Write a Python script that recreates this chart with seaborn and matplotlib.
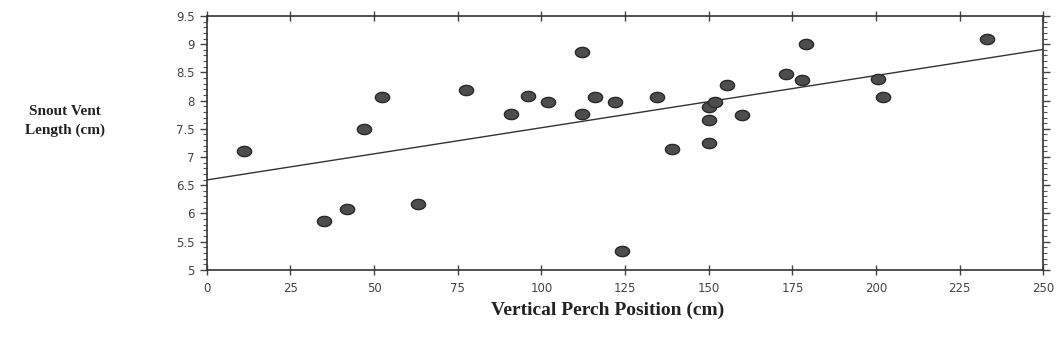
import matplotlib
matplotlib.use("Agg")
import matplotlib.pyplot as plt
from matplotlib.path import Path
from matplotlib.ticker import MultipleLocator
import numpy as np
import pandas as pd
import seaborn as sns

# perch height (cm) and snout-vent length (cm)
perch_cm = [11, 35, 42, 47, 52.5, 63, 77.5, 91, 96, 102, 112, 112, 116,
            122, 124, 134.5, 139, 150, 150, 150, 152, 155.5, 160, 173,
            178, 179, 200.5, 202, 233]
svl_cm = [7.10, 5.87, 6.07, 7.49, 8.07, 6.16, 8.19, 7.76, 8.08, 7.97,
          8.87, 7.76, 8.06, 7.97, 5.33, 8.06, 7.15, 7.25, 7.65, 7.89,
          7.98, 8.28, 7.75, 8.48, 8.37, 9.00, 8.38, 8.07, 9.09]

x_ticks = [0, 25, 50, 75, 100, 125, 150, 175, 200, 225, 250]
y_ticks = [5, 5.5, 6, 6.5, 7, 7.5, 8, 8.5, 9, 9.5]

df = pd.DataFrame({"perch": perch_cm, "svl": svl_cm})

sns.set_theme(style="ticks")
plt.rcParams["font.family"] = ["DejaVu Sans"]

# slightly flattened dot, like the scanned markers
t = np.linspace(0, 2 * np.pi, 40)
ellipse = Path(np.column_stack([np.cos(t), 0.72 * np.sin(t)]), closed=True)

fig = plt.figure(figsize=(10.55, 3.55), dpi=100)
ax = fig.add_axes([0.196, 0.24, 0.793, 0.715])
ax.set_xlim(0, 250)
ax.set_ylim(5, 9.5)

sns.regplot(data=df, x="perch", y="svl", ax=ax, ci=None, truncate=False,
            scatter=False, line_kws={"color": "#333333", "linewidth": 1.0})
sns.scatterplot(data=df, x="perch", y="svl", ax=ax, marker=ellipse, s=105,
                color="#4d4d4d", edgecolor="#2a2a2a", linewidth=1.0, zorder=3)

ax.set_xticks(x_ticks)
ax.set_xticklabels([str(v) for v in x_ticks])
ax.set_yticks(y_ticks)
ax.set_yticklabels([f"{v:g}" for v in y_ticks])
ax.yaxis.set_minor_locator(MultipleLocator(0.1))
ax.tick_params(axis="both", which="major", labelsize=8.5, colors="#444444",
               length=5, width=1.0, top=True, right=True)
ax.tick_params(axis="x", which="major", direction="inout", length=7, pad=5)
ax.tick_params(axis="y", which="minor", length=3, width=0.8, right=True,
               colors="#555555")

for side in ["left", "right", "top", "bottom"]:
    ax.spines[side].set_visible(True)
    ax.spines[side].set_color("#333333")
    ax.spines[side].set_linewidth(1.2)

ax.set_xlabel("")
ax.set_ylabel("")
fig.text(0.576, 0.125, "Vertical Perch Position (cm)", ha="center", va="center",
         fontsize=14, fontweight="bold", family=["Liberation Serif"], color="#222222")
fig.text(0.062, 0.66, "Snout Vent\nLength (cm)", ha="center", va="center",
         fontsize=11, fontweight="bold", family=["Liberation Serif"], color="#222222",
         linespacing=1.5)

fig.savefig("out.png", dpi=100, facecolor="white")
